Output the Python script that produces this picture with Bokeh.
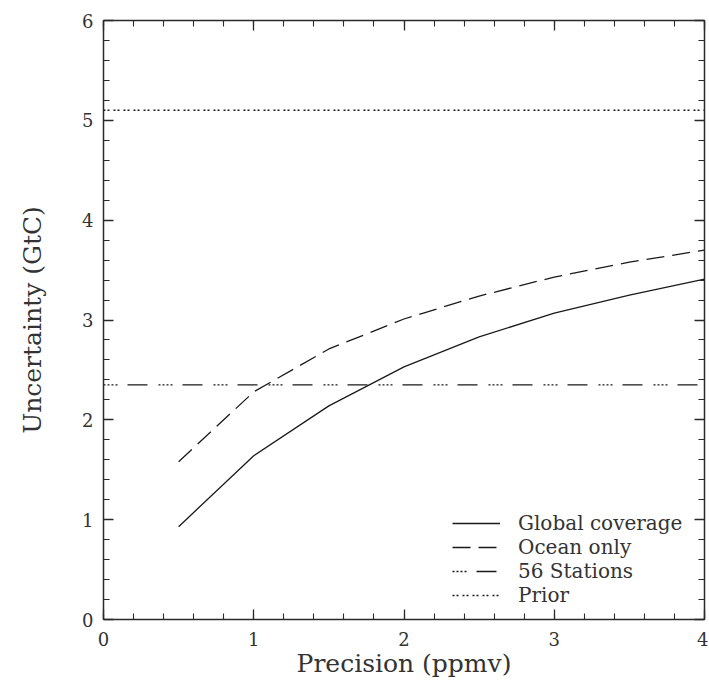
from bokeh.plotting import figure
from bokeh.models import Range1d, LinearAxis, SingleIntervalTicker, Legend, LegendItem, CustomJSTickFormatter
from bokeh.embed import file_html
from bokeh.resources import INLINE

precision = [0.5, 1.0, 1.5, 2.0, 2.5, 3.0, 3.5, 4.0]
global_cov = [0.93, 1.64, 2.14, 2.53, 2.83, 3.07, 3.25, 3.41]
ocean_only = [1.58, 2.28, 2.71, 3.01, 3.24, 3.43, 3.58, 3.70]
stations_x = [0.0, 4.0]
stations_y = [2.35, 2.35]
prior_x = [0.0, 4.0]
prior_y = [5.1, 5.1]

FONT = "DejaVu Serif"
INK = "#2a2a2a"

p = figure(frame_width=601, frame_height=599, output_backend="svg", toolbar_location=None,
           x_range=Range1d(0, 4), y_range=Range1d(0, 6),
           min_border_left=103, min_border_right=4, min_border_top=20, min_border_bottom=60)
p.grid.visible = False
p.outline_line_color = None
p.background_fill_color = "white"
p.border_fill_color = "white"

def style_axis(ax, labels=True):
    ax.ticker = SingleIntervalTicker(interval=1, num_minor_ticks=5)
    ax.axis_line_color = INK
    ax.axis_line_width = 1.5
    ax.major_tick_line_color = INK
    ax.minor_tick_line_color = INK
    ax.major_tick_line_width = 1.3
    ax.minor_tick_line_width = 1.1
    ax.major_tick_in = 10
    ax.major_tick_out = 0
    ax.minor_tick_in = 6
    ax.minor_tick_out = 0
    if labels:
        ax.major_label_text_font = FONT
        ax.major_label_text_font_size = "18px"
        ax.major_label_text_color = "#333333"
        ax.axis_label_text_font = FONT
        ax.axis_label_text_font_size = "25px"
        ax.axis_label_text_font_style = "normal"
        ax.axis_label_text_color = "#333333"
    else:
        ax.formatter = CustomJSTickFormatter(code="return '';")
        ax.major_label_standoff = 0

style_axis(p.xaxis[0])
style_axis(p.yaxis[0])
p.xaxis[0].axis_label = "Precision (ppmv)"
p.yaxis[0].axis_label = "Uncertainty (GtC)"
p.xaxis[0].major_label_standoff = 12
p.xaxis[0].axis_label_standoff = 0
p.yaxis[0].major_label_standoff = 10
p.yaxis[0].axis_label_standoff = 32

top = LinearAxis()
right = LinearAxis()
style_axis(top, labels=False)
style_axis(right, labels=False)
p.add_layout(top, "above")
p.add_layout(right, "right")

r1 = p.line(precision, global_cov, line_color="#1a1a1a", line_width=1.3)
r2 = p.line(precision, ocean_only, line_color="#1a1a1a", line_width=1.3, line_dash="18 8")
r3 = p.line(stations_x, stations_y, line_color="#1a1a1a", line_width=1.3,
            line_dash="2 2 2 2 2 2 2 10 20 11")
r4 = p.line(prior_x, prior_y, line_color="#1a1a1a", line_width=1.5, line_dash="2 2 2 4")

legend = Legend(items=[
    LegendItem(label="Global coverage", renderers=[r1]),
    LegendItem(label="Ocean only", renderers=[r2]),
    LegendItem(label="56 Stations", renderers=[r3]),
    LegendItem(label="Prior", renderers=[r4]),
], location=(349, 12))
legend.border_line_color = None
legend.background_fill_alpha = 0
legend.padding = 0
legend.margin = 0
legend.spacing = 0
legend.glyph_width = 48
legend.glyph_height = 24
legend.label_height = 24
legend.label_standoff = 18
legend.label_text_font = FONT
legend.label_text_font_size = "20px"
legend.label_text_color = "#333333"
p.add_layout(legend, "center")

open("out.html", "w").write(file_html(p, INLINE))
